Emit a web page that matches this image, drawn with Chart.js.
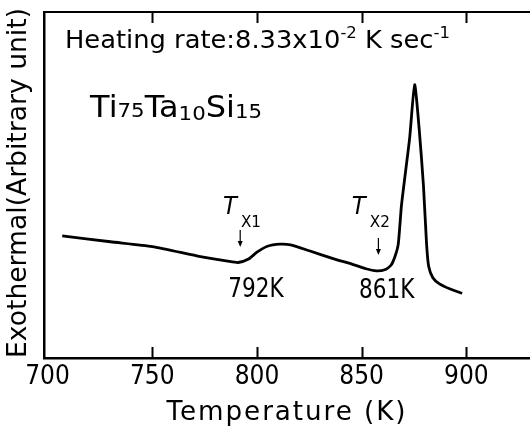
<!DOCTYPE html>
<html>
<head>
<meta charset="utf-8">
<script src="https://cdn.jsdelivr.net/npm/chart.js@4/dist/chart.umd.min.js"></script>
<style>
html, body { margin: 0; padding: 0; background: #fff; overflow: hidden; }
</style>
</head>
<body>
<canvas id="dta" width="530" height="428"></canvas>
<script>
"use strict";

// DTA trace (temperature in K, signal in arbitrary units 0..100)
const temps = [707, 730, 750, 773, 786, 791, 796, 800, 805, 811, 816, 825, 836, 846, 852, 857,
               861, 864, 866, 867.5, 869, 871, 873, 875.3, 877.5, 879.5, 881, 882, 884, 887, 892, 898];
const signal = [35.3, 33.6, 32.2, 29.3, 28.0, 27.6, 28.6, 30.6, 32.3, 32.9, 32.7, 31.0, 28.8, 27.0, 25.8, 25.2,
                25.5, 26.8, 29.5, 33, 44, 54, 64, 79, 66, 50, 33, 26.5, 23.2, 21.5, 20.0, 18.7];

const xTicks = [700, 750, 800, 850, 900];
const xMin = 698.3, xMax = 930.4;

// crystallisation onsets
const onsetSubs = ['X1', 'X2'];
const onsetLabels = ['792K', '861K'];
const arrowT = [792, 858];
const arrowTop = [37, 34.7];
const arrowBottom = [32.1, 29.8];
const symbolT = [783.8, 845.3];
const symbolTop = 46.5;
const labelT = [799.5, 862];
const labelTop = [23.4, 23.1];

const FONT = '"DejaVu Sans", sans-serif';

function textWidth(ctx, parts, spacing = 0) {
    let w = 0;
    parts.forEach(p => {
        ctx.font = `${p[1]}px ${FONT}`;
        ctx.letterSpacing = spacing + 'px';
        w += ctx.measureText(p[0]).width;
    });
    ctx.letterSpacing = '0px';
    return w;
}

// draw text squeezed horizontally by sx, left anchored unless align center
function drawText(ctx, text, x, y, size, sx, opts = {}) {
    ctx.save();
    ctx.font = `${opts.italic ? 'italic ' : ''}${size}px ${FONT}`;
    ctx.textBaseline = 'alphabetic';
    ctx.textAlign = 'left';
    ctx.fillStyle = '#000';
    ctx.letterSpacing = (opts.spacing || 0) + 'px';
    let w = ctx.measureText(text).width * sx;
    let left = opts.align === 'center' ? x - w / 2 : x;
    ctx.translate(left, y);
    ctx.scale(sx, 1);
    ctx.fillText(text, 0, 0);
    ctx.restore();
    return w;
}

// sequence of [text, size, dy] pieces on one baseline, stretched to width
function drawRich(ctx, parts, x, y, width) {
    const sx = width / textWidth(ctx, parts);
    let cx = x;
    parts.forEach(p => {
        cx += drawText(ctx, p[0], cx, y + (p[2] || 0), p[1], sx);
    });
}

const decor = {
    id: 'decor',
    afterDraw(chart) {
        const { ctx, chartArea: a, scales: { x, y } } = chart;

        ctx.save();
        ctx.strokeStyle = '#000';

        // top frame and inward ticks
        ctx.lineWidth = 2;
        ctx.beginPath();
        ctx.moveTo(a.left, a.top);
        ctx.lineTo(a.right, a.top);
        xTicks.slice(1).forEach(t => {
            const px = Math.round(x.getPixelForValue(t)) + 0.5;
            ctx.moveTo(px, a.top);
            ctx.lineTo(px, a.top + 11);
            ctx.moveTo(px, a.bottom);
            ctx.lineTo(px, a.bottom - 11);
        });
        ctx.stroke();

        // onset arrows
        ctx.lineWidth = 1.2;
        ctx.fillStyle = '#000';
        arrowT.forEach((t, i) => {
            const px = x.getPixelForValue(t);
            const y1 = y.getPixelForValue(arrowTop[i]);
            const y2 = y.getPixelForValue(arrowBottom[i]);
            ctx.beginPath();
            ctx.moveTo(px, y1);
            ctx.lineTo(px, y2 - 4);
            ctx.stroke();
            ctx.beginPath();
            ctx.moveTo(px - 2.5, y2 - 6);
            ctx.lineTo(px + 2.5, y2 - 6);
            ctx.lineTo(px, y2);
            ctx.closePath();
            ctx.fill();
        });
        ctx.restore();

        // onset symbols and temperatures
        onsetSubs.forEach((s, i) => {
            const sx0 = x.getPixelForValue(symbolT[i]);
            const sy0 = y.getPixelForValue(symbolTop);
            const w = drawText(ctx, 'T', sx0, sy0 + 17, 24, 0.95, { italic: true });
            drawText(ctx, s, sx0 + w + 4, sy0 + 30, 16, 0.95);
            drawText(ctx, onsetLabels[i], x.getPixelForValue(labelT[i]), y.getPixelForValue(labelTop[i]) + 20, 27, 0.8, { align: 'center' });
        });

        // heading and alloy
        drawRich(ctx, [
            ['Heating rate:8.33x10', 25], ['-2', 16, -10], [' K sec', 25], ['-1', 16, -10]
        ], x.getPixelForValue(708.3), y.getPixelForValue(89.6), 385);
        drawRich(ctx, [
            ['Ti', 30], ['75', 20, 0], ['Ta', 30], ['10', 20, 3], ['Si', 30], ['15', 20, 1]
        ], x.getPixelForValue(720.3), y.getPixelForValue(69.6), 172);

        // axis titles
        const xt = 'Temperature (K)';
        const xsx = 241 / textWidth(ctx, [[xt, 27]], 2);
        drawText(ctx, xt, (a.left + a.right) / 2 + 0, 420, 27, xsx, { align: 'center', spacing: 2 });
        ctx.save();
        ctx.translate(26, 183);
        ctx.rotate(-Math.PI / 2);
        const yt = 'Exothermal(Arbitrary unit)';
        drawText(ctx, yt, 0, 0, 27, 350 / textWidth(ctx, [[yt, 27]]), { align: 'center' });
        ctx.restore();
    }
};

new Chart(document.getElementById('dta'), {
    type: 'line',
    data: {
        datasets: [{
            data: temps.map((t, i) => ({ x: t, y: signal[i] })),
            borderColor: '#000',
            borderWidth: 2.8,
            pointRadius: 0,
            tension: 0.2,
            fill: false
        }]
    },
    options: {
        responsive: false,
        animation: false,
        events: [],
        layout: { padding: { top: 12, right: 0, left: 0, bottom: 0 } },
        plugins: { legend: { display: false }, tooltip: { enabled: false } },
        scales: {
            x: {
                type: 'linear',
                min: xMin,
                max: xMax,
                afterBuildTicks: s => { s.ticks = xTicks.map(v => ({ value: v })); },
                afterFit: s => { s.height = 70; },
                grid: { display: false, drawTicks: false },
                border: { display: true, color: '#000', width: 2.5 },
                ticks: {
                    color: '#000',
                    padding: 4,
                    maxRotation: 0,
                    font: { family: '"Liberation Sans Narrow", "DejaVu Sans Condensed", "DejaVu Sans", sans-serif', size: 26 }
                }
            },
            y: {
                min: 0,
                max: 100,
                afterFit: s => { s.width = 44; },
                grid: { display: false, drawTicks: false },
                border: { display: true, color: '#000', width: 2.5 },
                ticks: { display: false }
            }
        }
    },
    plugins: [decor]
});
</script>
</body>
</html>
